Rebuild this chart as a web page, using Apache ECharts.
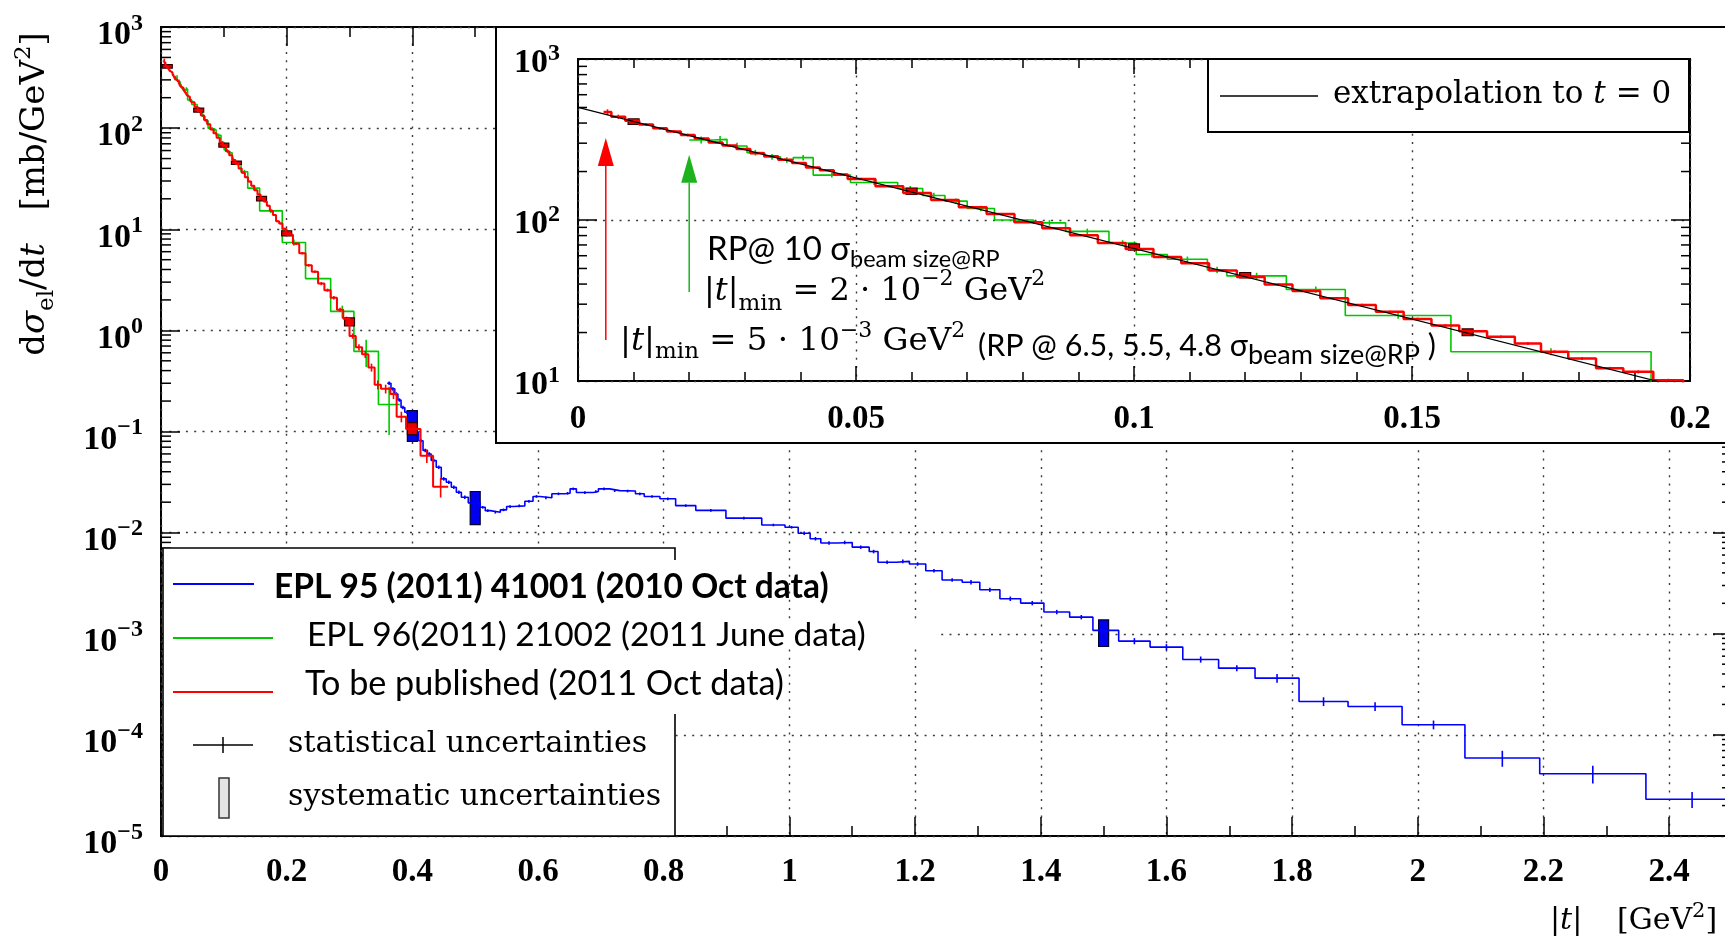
<!DOCTYPE html>
<html>
<head>
<meta charset="utf-8">
<script src="https://cdn.jsdelivr.net/npm/echarts@6.0.0/dist/echarts.min.js"></script>
<style>
html,body{margin:0;padding:0;background:#fff;}
#chart{width:1725px;height:940px;}
</style>
</head>
<body>
<div id="chart"></div>
<script>
// ---------------- data ----------------
// 2011 Oct data (red), histogram bin edges |t| [GeV^2] and dsigma/dt [mb/GeV^2]
const redEdges = [0.0046,0.006,0.0085,0.011,0.0135,0.016,0.0185,0.021,0.0235,0.026,0.0285,0.031,0.0335,0.036,0.0385,0.041,0.0435,0.046,0.0485,0.0535,0.0585,0.0635,0.0685,0.0735,0.0785,0.0835,0.0885,0.0935,0.0985,0.1035,0.1085,0.1135,0.1185,0.1235,0.1285,0.1335,0.1385,0.1435,0.1485,0.1535,0.1585,0.1635,0.1685,0.1732,0.1781,0.1831,0.188,0.1934,0.1988,0.21,0.22,0.23,0.24,0.25,0.26,0.27,0.28,0.29,0.30,0.31,0.32,0.33,0.34,0.35,0.365,0.375,0.39,0.413,0.433,0.457];
const redValues = [468,438,413,392,371,355,337,321,303,290,276,260,249,237,226,212,204,192,180,162,147,133,120,109,97,89,80.5,72,66,59,53.8,48.5,44.2,39.8,36.2,32.6,29.6,26.9,24.3,22.1,20.4,18.8,17.1,15.2,13.8,12.0,11.4,10.1,8.8,7.2,5.8,4.4,3.8,2.9,2.5,2.1,1.6,1.3,0.88,0.68,0.58,0.43,0.29,0.264,0.235,0.14,0.106,0.0575,0.0285];
const redErr = [0.04,0.03,0.02,0.02,0.02,0.02,0.02,0.015,0.015,0.015,0.015,0.015,0.015,0.015,0.015,0.015,0.015,0.015,
  0.015,0.015,0.015,0.015,0.015,0.015,0.015,0.015,0.015,0.015,0.016,0.016,0.016,0.016,0.016,0.017,0.017,0.017,0.018,0.018,0.018,0.019,0.019,0.02,0.02,0.02,0.021,0.021,0.022,0.022,
  0.025,0.025,0.028,0.03,0.03,0.035,0.035,0.04,0.045,0.05,0.06,0.07,0.08,0.09,0.1,0.1,0.11,0.12,0.13,0.15,0.22];

// 2011 June data (green)
const greenEdges = [0.020,0.0243,0.0268,0.0304,0.0334,0.0364,0.0387,0.0423,0.049,0.0575,0.062,0.066,0.070,0.0749,0.0819,0.0877,0.0955,0.1004,0.106,0.1132,0.1167,0.1274,0.138,0.157,0.193,0.230,0.270,0.307,0.346,0.380];
const greenValues = [314,317,288,262,247,236,244,190,171,157,142,131,118,100,96,85,72,61,57,49,45,37,25.5,15.2,7.4,3.25,1.54,0.62,0.185];
const greenErr = [0.05,0.05,0.05,0.04,0.04,0.04,0.04,0.035,0.035,0.035,0.04,0.04,0.04,0.035,0.04,0.04,0.04,0.04,0.04,0.045,0.045,0.045,0.045,0.05,0.07,0.09,0.14,0.3,0.5];

// 2010 Oct data (blue)
const blueEdges = [0.360,0.366,0.372,0.377,0.382,0.388,0.395,0.404,0.410,0.417,0.424,0.430,0.438,0.446,0.454,0.462,0.470,0.478,0.489,0.508,0.516,0.524,0.540,0.550,0.561,0.579,0.592,0.603,0.622,0.643,0.651,0.661,0.688,0.696,0.714,0.730,0.755,0.769,0.794,0.819,0.851,0.899,0.956,0.993,1.014,1.033,1.050,1.076,1.100,1.127,1.141,1.170,1.191,1.217,1.243,1.275,1.303,1.335,1.368,1.405,1.446,1.483,1.524,1.574,1.626,1.683,1.741,1.811,1.889,1.975,2.075,2.194,2.363,2.510];
const blueValues = [0.30,0.264,0.235,0.205,0.173,0.155,0.12,0.098,0.081,0.065,0.060,0.0516,0.0443,0.034,0.0315,0.0281,0.0251,0.0224,0.0197,0.0178,0.0165,0.0159,0.0168,0.0181,0.0184,0.0204,0.0228,0.0221,0.0242,0.0245,0.0271,0.0249,0.0255,0.0271,0.026,0.0258,0.0242,0.0228,0.0216,0.0185,0.0166,0.0139,0.0119,0.0113,0.00986,0.0087,0.0079,0.0080,0.00718,0.0065,0.0051,0.0052,0.0049,0.0042,0.0034,0.00323,0.00272,0.00222,0.00201,0.00164,0.00146,0.00108,0.000846,0.000738,0.000557,0.000457,0.000364,0.000214,0.000191,0.000126,5.9e-5,4.13e-5,2.31e-5];
const blueErr = [0.04,0.04,0.04,0.04,0.04,0.04,0.04,0.04,0.04,0.04,0.04,0.04,0.04,0.04,0.04,0.04,0.04,0.04,
  0.03,0.03,0.03,0.03,0.03,0.03,0.03,0.03,0.03,0.03,0.03,0.03,0.03,0.03,0.03,0.03,0.03,0.03,0.03,0.03,0.03,0.03,0.03,0.03,0.03,0.03,
  0.04,0.04,0.04,0.04,0.04,0.04,0.04,0.04,0.04,0.04,0.04,
  0.05,0.05,0.05,0.05,0.05,0.05,0.05,
  0.07,0.07,0.07,0.07,
  0.1,0.1,0.1,0.1,
  0.18,0.2,0.18];

// systematic uncertainty boxes
const redSysT = [0.01,0.06,0.1,0.12,0.16,0.2,0.3,0.4];
const redSysLo = [392,144,65,43.7,19.1,8.6,1.11,0.093];
const redSysHi = [425,158,71,47.2,21.1,9.66,1.33,0.1225];
const blueSysT = [0.4,0.5,1.5];
const blueSysLo = [0.080,0.0120,0.000748];
const blueSysHi = [0.161,0.0255,0.00137];

// extrapolation to t = 0 (inset, black line)
const extrapT = [0, 0.2];
const extrapV = [501, 8.84];

// |t|min arrows in the inset: position, tip value, tail value
const arrowT = [0.005, 0.02];
const arrowTip = [323, 254];
const arrowTail = [18, 35.7];
const arrowColors = ['#FF0000', '#1DB31D'];

// ---------------- helpers ----------------
const SERIF = 'DejaVu Serif', TICKF = 'Liberation Serif', SANS = 'Lato';
const K = {'DejaVu Serif':0.346, 'Liberation Serif':0.3375, 'Lato':0.387};

function stepData(edges, vals){
  const d = [];
  for (let i = 0; i < vals.length; i++) d.push([edges[i], vals[i]]);
  d.push([edges[vals.length], vals[vals.length-1]]);
  return d;
}
function errData(edges, vals, rel){
  return vals.map((v,i) => [(edges[i]+edges[i+1])/2, v*(1-rel[i]), v*(1+rel[i])]);
}
function sysData(ts, lo, hi){ return ts.map((t,i) => [t, lo[i], hi[i]]); }

// rich token with baseline control: baseline = block bottom - 20 - raise
function tk(F, fam, raise, extra){
  return Object.assign({fontSize:F, fontFamily:fam, lineHeight:F, verticalAlign:'bottom',
    padding:[0,0, raise + F*(K[fam]-0.5) + 20, 0]}, extra || {});
}

function histSeries(data, color, width, xi, yi, z){
  return {type:'line', data, step:'end', xAxisIndex:xi, yAxisIndex:yi, symbol:'none', showSymbol:false,
    lineStyle:{color, width}, z, silent:true, clip:true, animation:false};
}
function errSeries(data, color, width, xi, yi, z){
  return {type:'custom', data, xAxisIndex:xi, yAxisIndex:yi, z, silent:true, clip:true, encode:{x:0, y:[1,2]},
    renderItem(params, api){
      const x = api.value(0);
      const a = api.coord([x, api.value(1)]), b = api.coord([x, api.value(2)]);
      return {type:'line', shape:{x1:a[0], y1:a[1], x2:b[0], y2:b[1]}, style:{stroke:color, lineWidth:width}};
    }};
}
function sysSeries(data, fill, stroke, w, xi, yi, z){
  return {type:'custom', data, xAxisIndex:xi, yAxisIndex:yi, z, silent:true, clip:true, encode:{x:0, y:[1,2]},
    renderItem(params, api){
      const x = api.value(0);
      const a = api.coord([x, api.value(1)]), b = api.coord([x, api.value(2)]);
      return {type:'rect', shape:{x:a[0]-w/2, y:b[1], width:w, height:a[1]-b[1]}, style:{fill, stroke, lineWidth:1.2}};
    }};
}
function minorSeries(decLo, decHi, xMin, xMax, len, xi, yi, z){
  const d = [];
  for (let e = decLo; e < decHi; e++) for (let m = 2; m <= 9; m++) d.push([xMin, m*Math.pow(10, e)]);
  return {type:'custom', data:d, xAxisIndex:xi, yAxisIndex:yi, z, silent:true, encode:{x:0, y:1},
    renderItem(params, api){
      const v = api.value(1);
      const l = api.coord([xMin, v]), r = api.coord([xMax, v]);
      return {type:'group', children:[
        {type:'line', shape:{x1:l[0], y1:l[1], x2:l[0]+len, y2:l[1]}, style:{stroke:'#000', lineWidth:1.5}},
        {type:'line', shape:{x1:r[0]-len, y1:r[1], x2:r[0], y2:r[1]}, style:{stroke:'#000', lineWidth:1.5}}]};
    }};
}
function powLabel(v){
  const e = Math.round(Math.log10(v));
  return '{b|10}{s|' + (e < 0 ? '\u2212' + (-e) : e) + '}';
}
const dotted = {color:'#3a3a3a', width:1.4, type:[2, 6.3]};
const tickStyle = {color:'#000', width:1.5};

function xAxisDef(grid, max, interval, pos, tickLen, label, split, margin, showMax){
  return {gridIndex:grid, type:'value', min:0, max, interval, position:pos,
    axisLine:{show:false, onZero:false},
    axisTick:{show:true, inside:true, length:tickLen, lineStyle:tickStyle},
    minorTick:{show:false}, minorSplitLine:{show:false},
    axisLabel:{show:label, margin, fontFamily:TICKF, fontSize:33, fontWeight:'bold', lineHeight:33, color:'#000',
      showMaxLabel:showMax, showMinLabel:true, hideOverlap:false},
    splitLine:{show:split, lineStyle:dotted}, z: grid === 0 ? 1 : 11};
}
function yAxisDef(grid, min, max, split, pos, label, rich){
  return {gridIndex:grid, type:'log', logBase:10, min, max, splitNumber:Math.round(Math.log10(max/min)), position:pos,
    axisLine:{show:false, onZero:false},
    axisTick:{show:true, inside:true, length:19, lineStyle:tickStyle},
    minorTick:{show:false}, minorSplitLine:{show:false},
    axisLabel:{show:label, margin:18, formatter:powLabel, rich, color:'#000', hideOverlap:false},
    splitLine:{show:split, lineStyle:dotted}, z: grid === 0 ? 1 : 11};
}
// line height of the base token sets the block; superscript lifted by bottom padding
const mainRich = {
  b:{fontSize:34, fontFamily:TICKF, fontWeight:'bold', lineHeight:51, verticalAlign:'bottom', padding:[0,0,0,0], color:'#000'},
  s:{fontSize:24, fontFamily:TICKF, fontWeight:'bold', lineHeight:24, verticalAlign:'bottom', padding:[0,0,17,0], color:'#000'}
};
const insetRich = {
  b:{fontSize:34, fontFamily:TICKF, fontWeight:'bold', lineHeight:42, verticalAlign:'bottom', padding:[0,0,0,0], color:'#000'},
  s:{fontSize:24, fontFamily:TICKF, fontWeight:'bold', lineHeight:24, verticalAlign:'bottom', padding:[0,0,14,0], color:'#000'}
};

// ---------------- option ----------------
const XMAX = 2.5;
const option = {
  backgroundColor:'#fff',
  animation:false,
  grid:[
    {left:161, top:27, width:1571, height:809, show:true, borderColor:'#000', borderWidth:2, backgroundColor:'#fff', containLabel:false, outerBoundsMode:'none', z:0},
    {left:578, top:59, width:1112, height:322, show:true, borderColor:'#000', borderWidth:2, backgroundColor:'transparent', containLabel:false, outerBoundsMode:'none', z:11}
  ],
  xAxis:[
    xAxisDef(0, XMAX, 0.2, 'bottom', 19, true, true, 20, false),
    xAxisDef(0, XMAX, 0.1, 'bottom', 10, false, false, 0, false),
    xAxisDef(0, XMAX, 0.2, 'top', 19, false, false, 0, false),
    xAxisDef(0, XMAX, 0.1, 'top', 10, false, false, 0, false),
    xAxisDef(1, 0.2, 0.05, 'bottom', 15, true, true, 21.5, true),
    xAxisDef(1, 0.2, 0.01, 'bottom', 9, false, false, 0, false),
    xAxisDef(1, 0.2, 0.05, 'top', 15, false, false, 0, false),
    xAxisDef(1, 0.2, 0.01, 'top', 9, false, false, 0, false)
  ],
  yAxis:[
    yAxisDef(0, 1e-5, 1e3, true, 'left', true, mainRich),
    yAxisDef(0, 1e-5, 1e3, false, 'right', false, mainRich),
    yAxisDef(1, 10, 1000, true, 'left', true, insetRich),
    yAxisDef(1, 10, 1000, false, 'right', false, insetRich)
  ],
  series:[
    // main plot
    minorSeries(-5, 3, 0, XMAX, 10, 0, 0, 2),
    histSeries(stepData(greenEdges, greenValues), '#00C800', 1.6, 0, 0, 2),
    errSeries(errData(greenEdges, greenValues, greenErr), '#00C800', 1.6, 0, 0, 2),
    histSeries(stepData(blueEdges, blueValues), '#0000FF', 1.6, 0, 0, 3),
    errSeries(errData(blueEdges, blueValues, blueErr), '#0000FF', 1.6, 0, 0, 3),
    sysSeries(sysData(blueSysT, blueSysLo, blueSysHi), '#0000EE', '#000033', 10, 0, 0, 3),
    histSeries(stepData(redEdges, redValues), '#FF0000', 2, 0, 0, 4),
    errSeries(errData(redEdges, redValues, redErr), '#FF0000', 1.6, 0, 0, 4),
    sysSeries(sysData(redSysT, redSysLo, redSysHi), '#E80000', '#300000', 10, 0, 0, 4),
    // inset
    minorSeries(1, 3, 0, 0.2, 9, 4, 2, 12),
    histSeries(stepData(greenEdges, greenValues), '#00C800', 1.6, 4, 2, 12),
    errSeries(errData(greenEdges, greenValues, greenErr), '#00C800', 1.6, 4, 2, 12),
    histSeries(stepData(redEdges, redValues), '#FF0000', 2.5, 4, 2, 13),
    errSeries(errData(redEdges, redValues, redErr), '#FF0000', 1.6, 4, 2, 13),
    sysSeries(sysData(redSysT, redSysLo, redSysHi), '#E80000', '#300000', 11, 4, 2, 13),
    {type:'line', data:extrapT.map((t,i)=>[t, extrapV[i]]), xAxisIndex:4, yAxisIndex:2, symbol:'none', showSymbol:false,
      lineStyle:{color:'#000', width:1.2}, z:14, silent:true, clip:true},
    {type:'custom', data:arrowT.map((t,i)=>[t, arrowTip[i], arrowTail[i]]), xAxisIndex:4, yAxisIndex:2, z:14, silent:true,
      encode:{x:0, y:[1,2]},
      renderItem(params, api){
        const t = api.value(0);
        const tip = api.coord([t, api.value(1)]), tail = api.coord([t, api.value(2)]);
        const c = arrowColors[params.dataIndex], hl = 28, hw = 8;
        return {type:'group', children:[
          {type:'line', shape:{x1:tail[0], y1:tail[1], x2:tip[0], y2:tip[1]+hl}, style:{stroke:c, lineWidth:1.5}},
          {type:'polygon', shape:{points:[[tip[0], tip[1]], [tip[0]-hw, tip[1]+hl], [tip[0]+hw, tip[1]+hl]]}, style:{fill:c}}]};
      }}
  ],
  graphic:{elements:[
    // inset frame background
    {type:'rect', z:5, shape:{x:496, y:27, width:1300, height:416}, style:{fill:'#fff', stroke:'#000', lineWidth:2}},
    // main legend box
    {type:'rect', z:5, shape:{x:163, y:548, width:512, height:288}, style:{fill:'#fff', stroke:'#000', lineWidth:1.6}},
    {type:'rect', z:6, shape:{x:165, y:560, width:535, height:154}, style:{fill:'#fff'}},
    {type:'rect', z:6, shape:{x:700, y:624, width:235, height:24}, style:{fill:'#fff'}},
    {type:'line', z:7, shape:{x1:173, y1:584, x2:254, y2:584}, style:{stroke:'#0000FF', lineWidth:2}},
    {type:'line', z:7, shape:{x1:173, y1:638, x2:273, y2:638}, style:{stroke:'#00C800', lineWidth:2}},
    {type:'line', z:7, shape:{x1:173, y1:692, x2:273, y2:692}, style:{stroke:'#FF0000', lineWidth:2}},
    {type:'line', z:7, shape:{x1:193, y1:745, x2:253, y2:745}, style:{stroke:'#000', lineWidth:1.5}},
    {type:'line', z:7, shape:{x1:223, y1:737, x2:223, y2:753}, style:{stroke:'#000', lineWidth:1.5}},
    {type:'rect', z:7, shape:{x:219, y:778, width:10, height:40}, style:{fill:'#e4e4e4', stroke:'#333', lineWidth:1.5}},
    {type:'text', z:8, x:274, y:600+20, style:{text:'{a|EPL 95 (2011) 41001 (2010 Oct data)}', align:'left', verticalAlign:'bottom',
      rich:{a:tk(33.5, SANS, 0, {fontWeight:'bold', color:'#0070C0'})}}},
    {type:'text', z:8, x:307, y:648+20, style:{text:'{a|EPL 96(2011) 21002 (2011 June data)}', align:'left', verticalAlign:'bottom',
      rich:{a:tk(33.5, SANS, 0, {color:'#00B050'})}}},
    {type:'text', z:8, x:305, y:697+20, style:{text:'{a|To be published (2011 Oct data)}', align:'left', verticalAlign:'bottom',
      rich:{a:tk(34.2, SANS, 0, {color:'#FF0000'})}}},
    {type:'text', z:8, x:288, y:755+20, style:{text:'{a|statistical uncertainties}', align:'left', verticalAlign:'bottom',
      rich:{a:tk(30, SERIF, 0, {color:'#000'})}}},
    {type:'text', z:8, x:288, y:808+20, style:{text:'{a|systematic uncertainties}', align:'left', verticalAlign:'bottom',
      rich:{a:tk(30, SERIF, 0, {color:'#000'})}}},
    // inset legend
    {type:'rect', z:15, shape:{x:1208, y:59, width:481, height:73}, style:{fill:'#fff', stroke:'#000', lineWidth:2}},
    {type:'line', z:16, shape:{x1:1220, y1:96, x2:1318, y2:96}, style:{stroke:'#000', lineWidth:1.5}},
    {type:'text', z:16, x:1333, y:106+20, style:{text:'{r|extrapolation to }{i|t}{r| = 0}', align:'left', verticalAlign:'bottom',
      rich:{r:tk(31, SERIF, 0, {color:'#000'}), i:tk(31, SERIF, 0, {color:'#000', fontStyle:'italic'})}}},
    // inset annotations
    {type:'text', z:16, x:707, y:262+20, style:{text:'{a|RP@ 10 σ}{s|beam size@RP}', align:'left', verticalAlign:'bottom',
      rich:{a:tk(33, SANS, 0, {color:'#00B050'}), s:tk(23.5, SANS, -7, {color:'#00B050'})}}},
    {type:'text', z:16, x:704, y:303+20, style:{text:'{b||}{i|t}{b||}{m|min}{b| = 2 · 10}{p|\u22122}{b| GeV}{p|2}', align:'left', verticalAlign:'bottom',
      rich:{b:tk(32, SERIF, 0, {color:'#1DB31D'}), i:tk(32, SERIF, 0, {color:'#1DB31D', fontStyle:'italic'}),
            m:tk(23, SERIF, -9, {color:'#1DB31D'}), p:tk(22, SERIF, 16, {color:'#1DB31D'})}}},
    {type:'text', z:16, x:620, y:353+20, style:{text:'{b||}{i|t}{b||}{m|min}{b| = 5 · 10}{p|\u22123}{b| GeV}{p|2}', align:'left', verticalAlign:'bottom',
      rich:{b:tk(32.5, SERIF, 0, {color:'#FF0000'}), i:tk(32.5, SERIF, 0, {color:'#FF0000', fontStyle:'italic'}),
            m:tk(23, SERIF, -7, {color:'#FF0000'}), p:tk(22, SERIF, 14, {color:'#FF0000'})}}},
    {type:'text', z:16, x:978, y:358+20, style:{text:'{a|(RP @ 6.5, 5.5, 4.8 σ}{s|beam size@RP}{a| )}', align:'left', verticalAlign:'bottom',
      rich:{a:tk(30.5, SANS, 0, {color:'#FF0000'}), s:tk(27, SANS, -8, {color:'#FF0000'})}}},
    // axis titles
    {type:'text', z:8, x:67, y:194, rotation:Math.PI/2, style:{text:'{r|d}{i|σ}{m|el}{r|/d}{i|t}{r|   [mb/GeV}{p|2}{r|]}', align:'center', verticalAlign:'bottom',
      rich:{r:tk(34, SERIF, 0, {color:'#000'}), i:tk(34, SERIF, 0, {color:'#000', fontStyle:'italic'}),
            m:tk(23, SERIF, -8, {color:'#000'}), p:tk(23, SERIF, 15, {color:'#000'})}}},
    {type:'text', z:8, x:1550, y:932+20, style:{text:'{r||}{i|t}{r||}', align:'left', verticalAlign:'bottom',
      rich:{r:tk(30, SERIF, 0, {color:'#000'}), i:tk(30, SERIF, 0, {color:'#000', fontStyle:'italic'})}}},
    {type:'text', z:8, x:1617, y:932+20, style:{text:'{r|[GeV}{p|2}{r|]}', align:'left', verticalAlign:'bottom',
      rich:{r:tk(30, SERIF, 0, {color:'#000'}), p:tk(21, SERIF, 13, {color:'#000'})}}}
  ]}
};

const chart = echarts.init(document.getElementById('chart'), null, {renderer:'canvas', width:1725, height:940});
chart.setOption(option);
</script>
</body>
</html>
